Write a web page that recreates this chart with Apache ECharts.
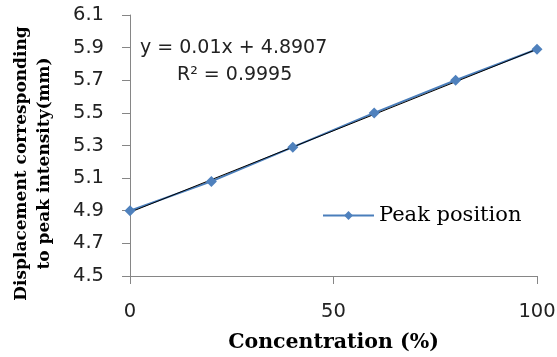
<!DOCTYPE html>
<html>
<head>
<meta charset="utf-8">
<script src="https://cdn.jsdelivr.net/npm/echarts@6/dist/echarts.min.js"></script>
<style>
html, body { margin: 0; padding: 0; background: #fff; }
#container { width: 557px; height: 357px; }
</style>
</head>
<body>
<div id="container"></div>
<script>
var concentration = [0, 20, 40, 60, 80, 100];
var peakPosition = [4.90, 5.08, 5.29, 5.50, 5.70, 5.89];
// trendline from the equation shown on the chart
var slope = 0.01, intercept = 4.8907;
var trendX = [0, 100];

var myChart = echarts.init(document.getElementById('container'));
var option = {
    animation: false,
    grid: { left: 130, right: 20, top: 15, bottom: 81, outerBoundsMode: 'none' },
    legend: {
        data: ['Peak position'],
        left: 322, top: 205,
        padding: 0,
        itemWidth: 51, itemHeight: 11,
        itemGap: 5,
        textStyle: { fontFamily: 'DejaVu Serif', fontSize: 21, color: '#000' }
    },
    xAxis: {
        type: 'value', min: 0, max: 100, interval: 50,
        name: 'Concentration (%)',
        nameLocation: 'middle', nameGap: 56,
        nameTextStyle: { fontFamily: 'DejaVu Serif', fontWeight: 'bold', fontSize: 20.5, color: '#000' },
        axisLine: { lineStyle: { color: '#868686' } },
        axisTick: { inside: false, length: 8, lineStyle: { color: '#868686' } },
        axisLabel: { margin: 26, fontFamily: 'DejaVu Sans', fontSize: 19.5, color: '#222' },
        splitLine: { show: false }
    },
    yAxis: {
        type: 'value', min: 4.5, max: 6.1, interval: 0.2,
        name: 'Displacement corresponding\nto peak intensity(mm)',
        nameLocation: 'middle', nameGap: 74, nameRotate: 90,
        nameTextStyle: { fontFamily: 'DejaVu Serif', fontWeight: 'bold', fontSize: 17, color: '#000', lineHeight: 23, padding: [0, 36, 0, 0] },
        axisLine: { show: true, lineStyle: { color: '#868686' } },
        axisTick: { show: true, length: 8, lineStyle: { color: '#868686' } },
        axisLabel: { margin: 26, fontFamily: 'DejaVu Sans', fontSize: 19.5, color: '#222',
            formatter: function (v) { return v.toFixed(1); } },
        splitLine: { show: false }
    },
    graphic: [
        { type: 'text', left: 140, top: 39, style: { text: 'y = 0.01x + 4.8907', font: '19px "DejaVu Sans"', fill: '#222' } },
        { type: 'text', left: 177, top: 66, style: { text: 'R² = 0.9995', font: '19px "DejaVu Sans"', fill: '#222' } }
    ],
    series: [
        {
            name: 'Peak position',
            type: 'line',
            data: concentration.map(function (x, i) { return [x, peakPosition[i]]; }),
            symbol: 'diamond', symbolSize: 11,
            lineStyle: { color: '#4a7ebb', width: 2 },
            itemStyle: { color: '#4f81bd' }
        },
        {
            name: 'Linear',
            type: 'line',
            data: trendX.map(function (x) { return [x, slope * x + intercept]; }),
            symbol: 'none',
            lineStyle: { color: '#000', width: 1 },
            z: 3
        }
    ]
};
myChart.setOption(option);
</script>
</body>
</html>
